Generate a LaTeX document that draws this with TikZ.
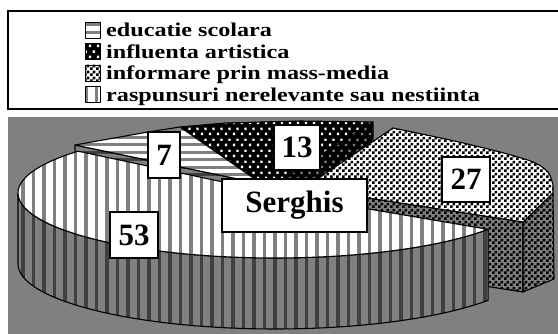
\documentclass[tikz,border=0pt]{standalone}
\usepackage{fontspec}
\setmainfont{Liberation Serif}
\newfontfamily\legendfont[FakeStretch=1.24]{Liberation Serif}
\usetikzlibrary{patterns}

% fills of the slices
\pgfdeclarepatternformonly{vstripes}{\pgfqpoint{0pt}{-1pt}}{\pgfqpoint{10.5pt}{11pt}}{\pgfqpoint{10.5pt}{10pt}}{%
  \pgfpathrectangle{\pgfqpoint{0pt}{-1pt}}{\pgfqpoint{3.5pt}{12pt}}\pgfusepath{fill}}
\pgfdeclarepatternformonly{hstripes}{\pgfqpoint{-1pt}{0pt}}{\pgfqpoint{11pt}{7.5pt}}{\pgfqpoint{10pt}{7.5pt}}{%
  \pgfpathrectangle{\pgfqpoint{-1pt}{0pt}}{\pgfqpoint{12pt}{3pt}}\pgfusepath{fill}}
\pgfdeclarepatternformonly{fchecker}{\pgfpointorigin}{\pgfqpoint{6pt}{6pt}}{\pgfqpoint{6pt}{6pt}}{%
  \pgfpathrectangle{\pgfpointorigin}{\pgfqpoint{3pt}{3pt}}%
  \pgfpathrectangle{\pgfqpoint{3pt}{3pt}}{\pgfqpoint{3pt}{3pt}}\pgfusepath{fill}}
\pgfdeclarepatternformonly{sdots}{\pgfpointorigin}{\pgfqpoint{8pt}{11pt}}{\pgfqpoint{8pt}{11pt}}{%
  \pgfpathrectangle{\pgfqpoint{1pt}{1pt}}{\pgfqpoint{2.5pt}{2.5pt}}%
  \pgfpathrectangle{\pgfqpoint{5pt}{6.5pt}}{\pgfqpoint{2.5pt}{2.5pt}}\pgfusepath{fill}}

\tikzset{
  face/.style={draw=black, line width=1.1pt, line join=round},
  stripetop/.style={face, preaction={fill=white}, pattern=vstripes, pattern color=gray},
  stripeside/.style={face, preaction={fill=gray}, pattern=vstripes, pattern color=darkgray},
  hstripetop/.style={face, preaction={fill=white}, pattern=hstripes, pattern color=gray},
  hstripeside/.style={face, preaction={fill=gray}, pattern=hstripes, pattern color=darkgray},
  dottop/.style={face, preaction={fill=black}, pattern=sdots, pattern color=white},
  dotside/.style={face, preaction={fill=black}, pattern=sdots, pattern color=gray},
  checktop/.style={face, preaction={fill=white}, pattern=fchecker, pattern color=black},
  checkside/.style={face, preaction={fill=gray}, pattern=fchecker, pattern color=black},
  lbl/.style={draw, fill=white, line width=1.1pt, inner sep=0pt,
    font=\bfseries\fontsize{31}{31}\selectfont},
  legtext/.style={anchor=base west, inner sep=0pt,
    font=\legendfont\bfseries\fontsize{19.5}{20}\selectfont}
}

\begin{document}
\begin{tikzpicture}[x=1pt, y=-1pt]
  \useasboundingbox (0,0) rectangle (558,334);

  % Legend
  \draw[line width=1.3pt] (8,11) rectangle (570,109);
  \foreach \sty/\txt [count=\i] in {hstripetop/educatie scolara, dottop/influenta artistica,
      checktop/informare prin mass-media, stripetop/raspunsuri nerelevante sau nestiinta} {
    \pgfmathsetmacro{\yb}{37+21.5*(\i-1)}
    \draw[\sty, line width=0.8pt] (85,\yb-15) rectangle (100,\yb+1);
    \node[legtext] (leg\i) at (106,\yb) {\txt};
  }

  % Chart area
  \fill[gray] (8,117) rectangle (570,340);

  \pgfmathsetmacro{\cx}{275}
  \pgfmathsetmacro{\cy}{193}
  \pgfmathsetmacro{\rx}{257}
  \pgfmathsetmacro{\ry}{65}
  \pgfmathsetmacro{\hh}{71}

  % 13 (back)
  \draw[dotside] (268,188) -- (373,122) -- (373,193) -- (268,259) -- cycle;
  \draw[dottop] (268,188) -- (180,127) -- (225,123) -- (300,121) -- (373,122) -- cycle;

  % 7
  \draw[hstripeside] (75,145) -- (262,184) -- (262,255) -- (75,216) -- cycle;
  \draw[hstripetop] (262,184) -- (75,145) -- (148,132) -- (180,127) -- cycle;

  % 27
  \draw[checkside] (304,188) -- (523,222) -- (523,292) -- (304,258) -- cycle;
  \draw[checkside] (523,222) -- (553,193) -- (554,279) -- (523,292) -- cycle;
  \draw[checktop] (304,188) -- plot[smooth] coordinates {(393,128) (450,140) (500,152)
      (533,162) (548,172) (553,185)} -- (553,193) -- (523,222) -- cycle;

  % 53 (front)
  \draw[stripeside] plot[domain=180:326, samples=50, variable=\t]
      ({\cx+\rx*cos(\t)},{\cy-\ry*sin(\t)})
    -- plot[domain=326:180, samples=50, variable=\t]
      ({\cx+\rx*cos(\t)},{\cy+\hh-\ry*sin(\t)}) -- cycle;
  \draw[stripetop] (\cx,\cy) -- plot[domain=140:326, samples=60, variable=\t]
      ({\cx+\rx*cos(\t)},{\cy-\ry*sin(\t)}) -- cycle;

  % Values
  \node[lbl, minimum width=32pt, minimum height=46pt] (seven) at (164,155) {7};
  \node[lbl, minimum width=46pt, minimum height=45pt] (thirteen) at (297,147.5) {13};
  \node[lbl, minimum width=48pt, minimum height=45pt] (twentyseven) at (466,179.5) {27};
  \node[lbl, minimum width=48pt, minimum height=46pt] (fiftythree) at (134,235) {53};
  \node[lbl, minimum width=145pt, minimum height=53pt] (serghis) at (294.5,205.5) {Serghis};

\end{tikzpicture}
\end{document}
